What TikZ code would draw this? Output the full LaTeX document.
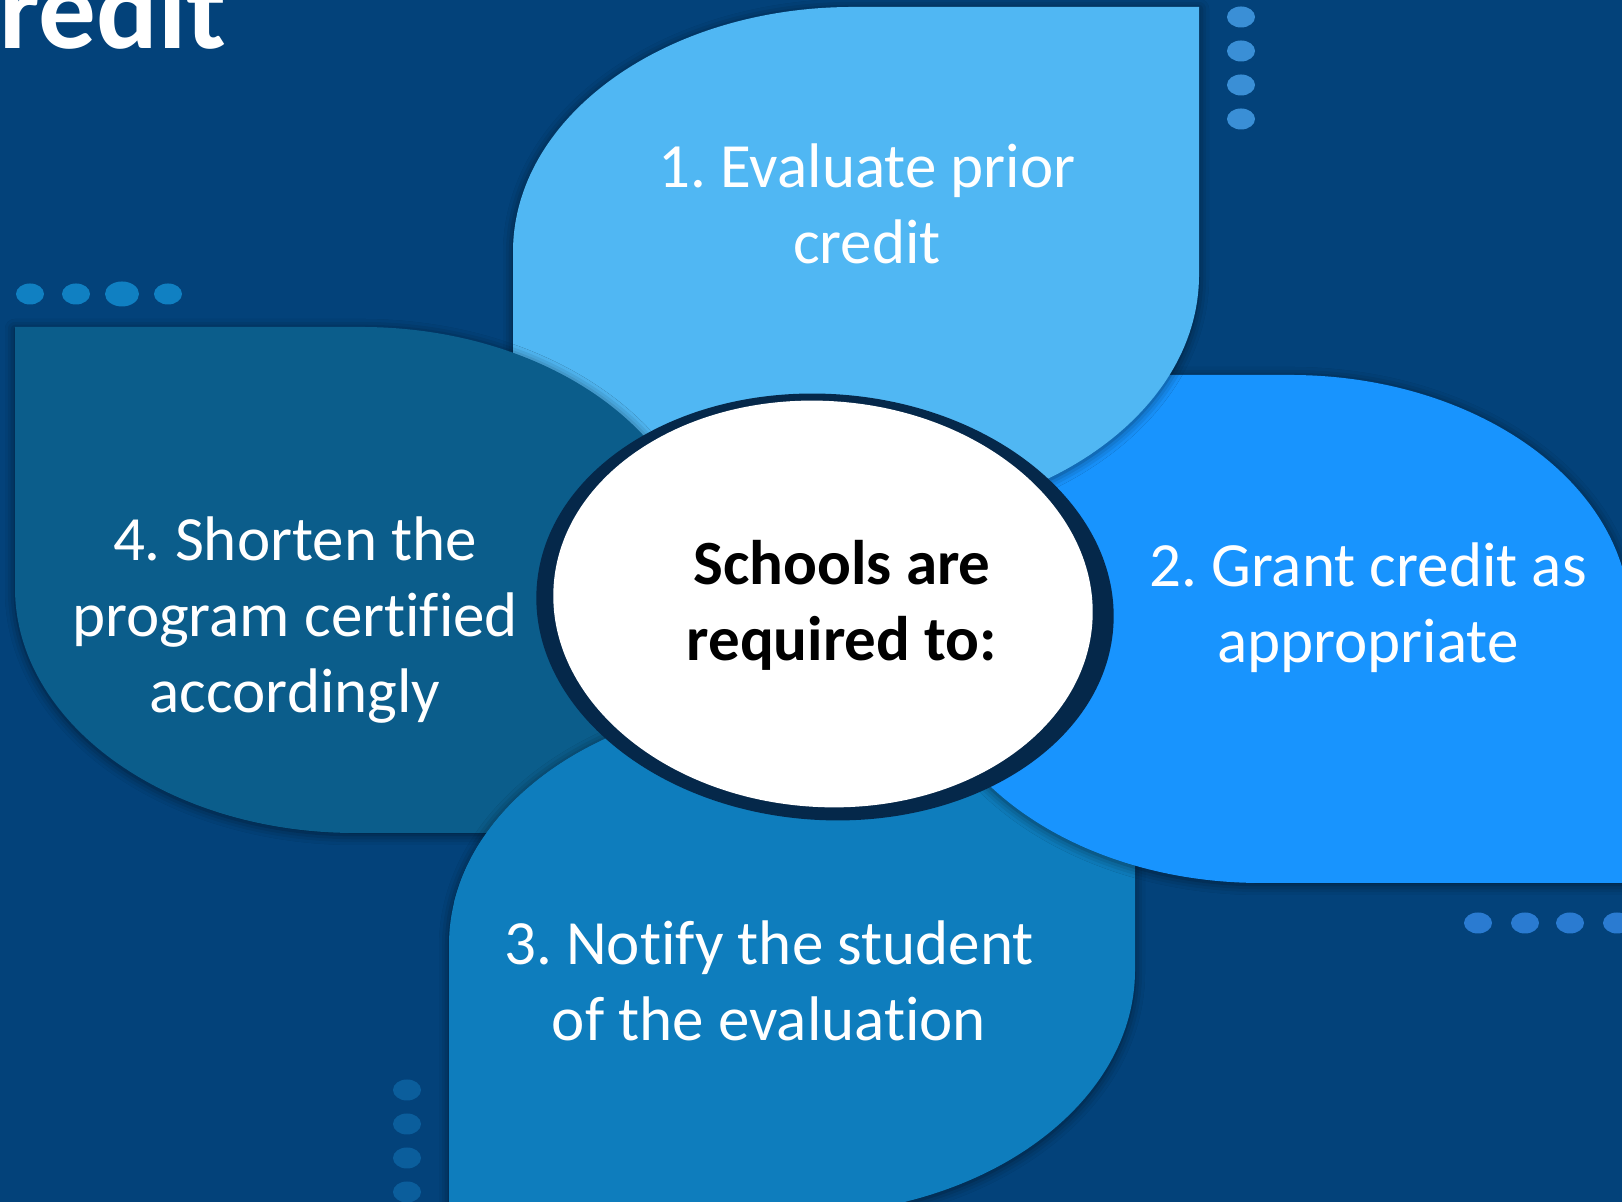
\documentclass[tikz,border=0pt]{standalone}
\usepackage{fontspec}
\setmainfont{Carlito}[Ligatures={NoCommon,NoContextual}]
\usepackage{tikz}
\usetikzlibrary{shadows.blur}
\definecolor{bgblue}{HTML}{03427A}
\definecolor{leafA}{HTML}{50B7F3}
\definecolor{leafB}{HTML}{1894FE}
\definecolor{leafC}{HTML}{0E7DBD}
\definecolor{leafD}{HTML}{0B5D8B}
\definecolor{ringdark}{HTML}{05284A}
\definecolor{dotA}{HTML}{3A8FD6}
\definecolor{dotB}{HTML}{1080C2}
\definecolor{dotC}{HTML}{2A7BD1}
\definecolor{dotD}{HTML}{0B5E9C}
\newcommand{\leaffont}{\fontsize{31.5}{38}\selectfont}
\newcommand{\headfont}{\fontsize{57.5}{60}\selectfont\bfseries}
% outlines of the lower and the left leaf (used more than once)
\newcommand{\lowerleaf}{(1135,502) -- (1135,232) arc[start angle=0,end angle=-90,x radius=340,y radius=245]
	-- (449,-13) -- (449,257) arc[start angle=180,end angle=90,x radius=340,y radius=245] -- cycle}
\newcommand{\leftleaf}{(15,875) -- (361,875) arc[start angle=90,end angle=0,x radius=340,y radius=245]
	-- (701,369) -- (355,369) arc[start angle=-90,end angle=-180,x radius=340,y radius=245] -- cycle}
\tikzset{leaf/.style={fill=#1,blur shadow={shadow xshift=0pt,shadow yshift=-1pt,
			shadow blur radius=5pt,shadow opacity=55}},
	leaftext/.style={text=white,align=center,font=\leaffont},
}
\frenchspacing

\begin{document}
\begin{tikzpicture}[x=0.5pt,y=0.5pt]
	\tikzstyle{every node}=[inner sep=0pt]
	\useasboundingbox (0,0) rectangle (1622,1202);
	\clip (0,0) rectangle (1622,1202);
	\fill[bgblue] (0,0) rectangle (1622,1202);
	
	\node[anchor=base east,text=white,font=\headfont] (head) at (227,1153) {redit};
	
	% dotted rows
	\foreach \y in {1185,1151,1117,1083}
	\fill[dotA] (1241,\y) ellipse (14 and 10.5);
	\foreach \x in {30,76,168}
	\fill[dotB] (\x,908) ellipse (14 and 10.5);
	\fill[dotB] (122,908) ellipse (17 and 12.5);
	\foreach \x in {1478,1525,1570,1617}
	\fill[dotC] (\x,279) ellipse (14 and 10.5);
	\foreach \y in {112,78,44,10}
	\fill[dotD] (407,\y) ellipse (14 and 10.5);
	
	% four leaves, each one lies over the next
	\fill[leaf=leafC] \lowerleaf;
	\fill[leaf=leafB] (921,827) -- (1290,827) arc[start angle=90,end angle=0,x radius=340,y radius=245]
		-- (1630,319) -- (1261,319) arc[start angle=-90,end angle=-180,x radius=340,y radius=245] -- cycle;
	\fill[leaf=leafA] (1199,1195) -- (1199,927) arc[start angle=0,end angle=-90,x radius=340,y radius=245]
		-- (513,682) -- (513,950) arc[start angle=180,end angle=90,x radius=340,y radius=245] -- cycle;
	\fill[leaf=leafD] \leftleaf;
	% lower leaf back on top of the left one
	\begin{scope}
	\clip \leftleaf;
	\fill[leaf=leafC] \lowerleaf;
	\end{scope}
	\begin{scope}
	\clip (400,300) rectangle (880,502);
	\fill[leafC] \lowerleaf;
	\end{scope}
	
	\node[leaftext] (one) at (867,998) {1. Evaluate prior\\credit};
	\node[leaftext] (two) at (1368,594) {2. Grant credit as\\appropriate};
	\node[leaftext] (three) at (769,221) {3. Notify the student\\of the evaluation};
	\node[leaftext] (four) at (295,582) {4. Shorten the\\program certified\\accordingly};
	
	% centre
	\fill[ringdark,rotate around={-4:(825,595)}] (825,595) ellipse (289 and 213);
	\fill[white,rotate around={-4:(823,598)}] (823,598) ellipse (270 and 203);
	\node[align=center,font=\leaffont\bfseries] (hub) at (842,597) {Schools are\\required to:};
\end{tikzpicture}
\end{document}
